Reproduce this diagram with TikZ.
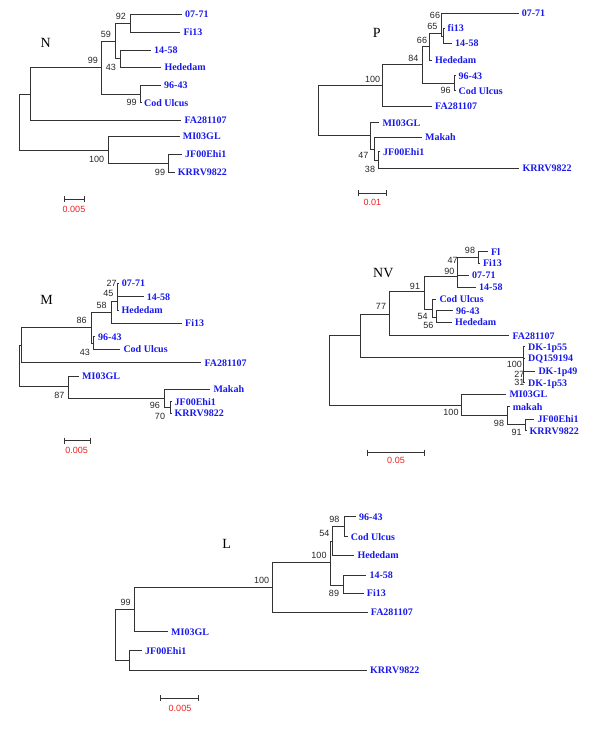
\documentclass[tikz,border=0pt]{standalone}
\usepackage{fontspec}
\usetikzlibrary{calc}
\setmainfont{Liberation Serif}
\newfontfamily\sansf{Liberation Sans}
\definecolor{lblue}{RGB}{25,25,235}
\definecolor{sred}{RGB}{240,30,30}
\begin{document}
\begin{tikzpicture}[x=1pt,y=-1pt,
  br/.style={draw=black!80,line width=0.9pt},
  lf/.style={anchor=west,inner xsep=3pt,inner ysep=0pt,font=\fontsize{10}{10}\selectfont\bfseries,text=lblue,text height=6.6pt,text depth=0pt},
  bs/.style={inner sep=0pt,font=\sansf\fontsize{9}{9}\selectfont,text=black!85},
  ttl/.style={inner sep=0pt,font=\fontsize{14}{14}\selectfont},
  scl/.style={inner sep=0pt,font=\sansf\fontsize{9}{9}\selectfont,text=sred},
  sb/.style={draw=black!80,line width=0.9pt}]
\useasboundingbox (0,0) rectangle (600,729);

% ================= Tree N =================
\node[ttl] (Nt) at (45.7,43.3) {N};
\coordinate (Nr) at (19.3,94.3);
\coordinate (NA) at (30,94.3);
\coordinate (NB) at (101,67.8);
\coordinate (NC) at (115,41.2);
\coordinate (ND) at (130,23.3);
\coordinate (NE) at (120,58.7);
\coordinate (NF) at (140.7,94);
\coordinate (NG) at (108.3,150.3);
\coordinate (NH) at (168.3,163.3);
\node[lf] (N1) at (182,14.3) {07-71};
\node[lf] (N2) at (180.3,32.3) {Fi13};
\node[lf] (N3) at (151,50) {14-58};
\node[lf] (N4) at (161.3,67.3) {Hededam};
\node[lf] (N5) at (161,85) {96-43};
\node[lf] (N6) at (141,102.7) {Cod Ulcus};
\node[lf] (N7) at (181.3,120) {FA281107};
\node[lf] (N8) at (179.7,136) {MI03GL};
\node[lf] (N9) at (182,154) {JF00Ehi1};
\node[lf] (N10) at (174.7,172) {KRRV9822};
\draw[br] (Nr) |- (NA) (Nr) |- (NG) (NA) |- (NB) (NA) |- (N7.west)
  (NB) |- (NC) (NB) |- (NF) (NC) |- (ND) (NC) |- (NE)
  (ND) |- (N1.west) (ND) |- (N2.west) (NE) |- (N3.west) (NE) |- (N4.west)
  (NF) |- (N5.west) (NF) |- (N6.west) (NG) |- (N8.west) (NG) |- (NH)
  (NH) |- (N9.west) (NH) |- (N10.west);
\node[bs] (Nb1) at (121,16.7) {92};
\node[bs] (Nb2) at (106,34) {59};
\node[bs] (Nb3) at (93,60) {99};
\node[bs] (Nb4) at (111,67.7) {43};
\node[bs] (Nb5) at (131.7,102.7) {99};
\node[bs] (Nb6) at (96.7,159) {100};
\node[bs] (Nb7) at (160,172) {99};
\coordinate (Ns1) at (64,199.3);
\coordinate (Ns2) at (84.3,199.3);
\draw[sb] (Ns1) -- (Ns2) ($(Ns1)+(0,-3)$) -- ($(Ns1)+(0,3)$) ($(Ns2)+(0,-3)$) -- ($(Ns2)+(0,3)$);
\node[scl] (Nsl) at (74,209.3) {0.005};

% ================= Tree P =================
\node[ttl] (Pt) at (376.7,33.3) {P};
\coordinate (Pr) at (318.3,85);
\coordinate (PB) at (382.7,85);
\coordinate (PC) at (422.7,64.3);
\coordinate (PD) at (429.3,46.7);
\coordinate (PE) at (441.7,33.3);
\coordinate (PE2) at (443.3,36);
\coordinate (PF) at (454,83.3);
\coordinate (PG) at (370,135.7);
\coordinate (PH) at (374,149);
\coordinate (PI) at (378.3,160);
\node[lf] (P1) at (518.7,13.3) {07-71};
\node[lf] (P2) at (444.5,28.3) {fi13};
\node[lf] (P3) at (452,43.3) {14-58};
\node[lf] (P4) at (432,60) {Hededam};
\node[lf] (P5) at (455.5,75.7) {96-43};
\node[lf] (P6) at (455.5,90.7) {Cod Ulcus};
\node[lf] (P7) at (432,106) {FA281107};
\node[lf] (P8) at (379.3,122.7) {MI03GL};
\node[lf] (P9) at (422,137.3) {Makah};
\node[lf] (P10) at (380,151.7) {JF00Ehi1};
\node[lf] (P11) at (519.3,168.3) {KRRV9822};
\draw[br] (Pr) |- (PB) (Pr) |- (PG) (PB) |- (PC) (PB) |- (P7.west)
  (PC) |- (PD) (PC) |- (PF) (PD) |- (PE) (PD) |- (P4.west)
  (PE) |- (P1.west) (PE) |- (PE2) (PE2) |- (P2.west) (PE2) |- (P3.west)
  (PF) |- (P5.west) (PF) |- (P6.west) (PG) |- (P8.west) (PG) |- (PH)
  (PH) |- (P9.west) (PH) |- (PI) (PI) |- (P10.west) (PI) |- (P11.west);
\node[bs] (Pb1) at (435,15) {66};
\node[bs] (Pb2) at (432.3,26) {65};
\node[bs] (Pb3) at (422,40) {66};
\node[bs] (Pb4) at (413.3,58.3) {84};
\node[bs] (Pb5) at (372.7,79) {100};
\node[bs] (Pb6) at (445.7,90.7) {96};
\node[bs] (Pb7) at (363.3,155) {47};
\node[bs] (Pb8) at (370,169) {38};
\coordinate (Ps1) at (358.3,193.3);
\coordinate (Ps2) at (386,193.3);
\draw[sb] (Ps1) -- (Ps2) ($(Ps1)+(0,-3)$) -- ($(Ps1)+(0,3)$) ($(Ps2)+(0,-3)$) -- ($(Ps2)+(0,3)$);
\node[scl] (Psl) at (372.3,202.7) {0.01};

% ================= Tree M =================
\node[ttl] (Mt) at (46.7,300) {M};
\coordinate (Mr) at (19.3,345);
\coordinate (MA) at (21.7,345);
\coordinate (MB) at (91,327.7);
\coordinate (MC) at (111,312.7);
\coordinate (MD) at (117,301.7);
\coordinate (MF) at (93.3,343);
\coordinate (MG) at (68.3,386.7);
\coordinate (MH) at (164,398.3);
\coordinate (MI) at (170,407.5);
\node[lf] (M1) at (118.7,283.3) {07-71};
\node[lf] (M2) at (143.7,296.7) {14-58};
\node[lf] (M3) at (118.5,310) {Hededam};
\node[lf] (M4) at (182,323.3) {Fi13};
\node[lf] (M5) at (95,336.7) {96-43};
\node[lf] (M6) at (120.3,349.3) {Cod Ulcus};
\node[lf] (M7) at (201.3,362.7) {FA281107};
\node[lf] (M8) at (79,376) {MI03GL};
\node[lf] (M9) at (210.3,389) {Makah};
\node[lf] (M10) at (171.5,401.7) {JF00Ehi1};
\node[lf] (M11) at (171.5,413.3) {KRRV9822};
\draw[br] (Mr) |- (MA) (Mr) |- (MG) (MA) |- (MB) (MA) |- (M7.west)
  (MB) |- (MC) (MB) |- (MF) (MC) |- (MD) (MC) |- (M4.west)
  (MD) |- (M1.west) (MD) |- (M2.west) (MD) |- (M3.west)
  (MF) |- (M5.west) (MF) |- (M6.west) (MG) |- (M8.west) (MG) |- (MH)
  (MH) |- (M9.west) (MH) |- (MI) (MI) |- (M10.west) (MI) |- (M11.west);
\node[bs] (Mb1) at (111.7,283.3) {27};
\node[bs] (Mb2) at (108.3,293.3) {45};
\node[bs] (Mb3) at (101.7,305) {58};
\node[bs] (Mb4) at (81.7,320) {86};
\node[bs] (Mb5) at (85,352.7) {43};
\node[bs] (Mb6) at (59.3,395.7) {87};
\node[bs] (Mb7) at (155,405.7) {96};
\node[bs] (Mb8) at (160,416.7) {70};
\coordinate (Ms1) at (64,440.7);
\coordinate (Ms2) at (90,440.7);
\draw[sb] (Ms1) -- (Ms2) ($(Ms1)+(0,-3)$) -- ($(Ms1)+(0,3)$) ($(Ms2)+(0,-3)$) -- ($(Ms2)+(0,3)$);
\node[scl] (Msl) at (76.7,450.7) {0.005};

% ================= Tree NV =================
\node[ttl] (Vt) at (383.3,273.3) {NV};
\coordinate (Vr) at (329.3,335.7);
\coordinate (VA) at (360,335.7);
\coordinate (VB) at (389.3,314);
\coordinate (VC) at (424,291.7);
\coordinate (VD) at (457,276.7);
\coordinate (VF) at (478.3,257.5);
\coordinate (VG) at (432.7,309);
\coordinate (VH) at (436.7,317.7);
\coordinate (VK) at (523.5,357.3);
\coordinate (VI) at (461,405);
\coordinate (VJ) at (507.7,415.7);
\coordinate (VL) at (525,424.3);
\node[lf] (V1) at (488,251.7) {Fl};
\node[lf] (V2) at (479.8,263.3) {Fi13};
\node[lf] (V3) at (469,275) {07-71};
\node[lf] (V4) at (476,287.3) {14-58};
\node[lf] (V5) at (436.3,299.3) {Cod Ulcus};
\node[lf] (V6) at (453,310.7) {96-43};
\node[lf] (V7) at (452,322.3) {Hededam};
\node[lf] (V8) at (509.3,335.7) {FA281107};
\node[lf] (V9) at (525,346.7) {DK-1p55};
\node[lf] (V10) at (525,358.3) {DQ159194};
\node[lf] (V11) at (535.3,371.3) {DK-1p49};
\node[lf] (V12) at (525,382.7) {DK-1p53};
\node[lf] (V13) at (506.3,394.3) {MI03GL};
\node[lf] (V14) at (509.7,406.7) {makah};
\node[lf] (V15) at (534.3,419) {JF00Ehi1};
\node[lf] (V16) at (526.5,430.7) {KRRV9822};
\draw[br] (Vr) |- (VA) (Vr) |- (VI) (VA) |- (VB) (VA) |- (VK)
  (VB) |- (VC) (VB) |- (V8.west) (VC) |- (VD) (VC) |- (VG)
  (VD) |- (VF) (VD) |- (V3.west) (VD) |- (V4.west) (VF) |- (V1.west) (VF) |- (V2.west)
  (VG) |- (V5.west) (VG) |- (VH) (VH) |- (V6.west) (VH) |- (V7.west)
  (VK) |- (V9.west) (VK) |- (V10.west) (VK) |- (V11.west) (VK) |- (V12.west)
  (VI) |- (V13.west) (VI) |- (VJ) (VJ) |- (V14.west) (VJ) |- (VL)
  (VL) |- (V15.west) (VL) |- (V16.west);
\node[bs] (Vb1) at (470,250.7) {98};
\node[bs] (Vb2) at (452.7,260.7) {47};
\node[bs] (Vb3) at (449.3,271) {90};
\node[bs] (Vb4) at (415,286.7) {91};
\node[bs] (Vb5) at (381,306.7) {77};
\node[bs] (Vb6) at (422.7,316) {54};
\node[bs] (Vb7) at (428.3,325) {56};
\node[bs] (Vb8) at (514.3,364.3) {100};
\node[bs] (Vb9) at (519.3,374.3) {27};
\node[bs] (Vb10) at (519.3,382.7) {31};
\node[bs] (Vb11) at (451,412.7) {100};
\node[bs] (Vb12) at (499,423.3) {98};
\node[bs] (Vb13) at (516.7,432.3) {91};
\coordinate (Vs1) at (367.7,452.7);
\coordinate (Vs2) at (424.3,452.7);
\draw[sb] (Vs1) -- (Vs2) ($(Vs1)+(0,-3)$) -- ($(Vs1)+(0,3)$) ($(Vs2)+(0,-3)$) -- ($(Vs2)+(0,3)$);
\node[scl] (Vsl) at (396,460.7) {0.05};

% ================= Tree L =================
\node[ttl] (Lt) at (226.7,544.3) {L};
\coordinate (Lr) at (115.7,609.3);
\coordinate (LA) at (134.3,609.3);
\coordinate (LB) at (272.3,587.7);
\coordinate (LC) at (330.7,562.7);
\coordinate (LE) at (332.7,541);
\coordinate (LF) at (344.3,526.7);
\coordinate (LD) at (343.3,585);
\coordinate (LG) at (129.3,660);
\node[lf] (L1) at (356,516.7) {96-43};
\node[lf] (L2) at (347.7,536.7) {Cod Ulcus};
\node[lf] (L3) at (354.3,555.3) {Hededam};
\node[lf] (L4) at (366.3,575) {14-58};
\node[lf] (L5) at (363.7,593.3) {Fi13};
\node[lf] (L6) at (367.7,612.3) {FA281107};
\node[lf] (L7) at (168,631.7) {MI03GL};
\node[lf] (L8) at (142,650.7) {JF00Ehi1};
\node[lf] (L9) at (367,670) {KRRV9822};
\draw[br] (Lr) |- (LA) (Lr) |- (LG) (LA) |- (LB) (LA) |- (L7.west)
  (LB) |- (LC) (LB) |- (L6.west) (LC) |- (LE) (LC) |- (LD)
  (LE) |- (LF) (LE) |- (L3.west) (LF) |- (L1.west) (LF) |- (L2.west)
  (LD) |- (L4.west) (LD) |- (L5.west) (LG) |- (L8.west) (LG) |- (L9.west);
\node[bs] (Lb1) at (334.3,519.3) {98};
\node[bs] (Lb2) at (324.3,533.3) {54};
\node[bs] (Lb3) at (319,555.3) {100};
\node[bs] (Lb4) at (334,593.3) {89};
\node[bs] (Lb5) at (261.7,580) {100};
\node[bs] (Lb6) at (125.7,602.3) {99};
\coordinate (Ls1) at (160.7,698.3);
\coordinate (Ls2) at (198.3,698.3);
\draw[sb] (Ls1) -- (Ls2) ($(Ls1)+(0,-3)$) -- ($(Ls1)+(0,3)$) ($(Ls2)+(0,-3)$) -- ($(Ls2)+(0,3)$);
\node[scl] (Lsl) at (180,708.3) {0.005};
\end{tikzpicture}
\end{document}
